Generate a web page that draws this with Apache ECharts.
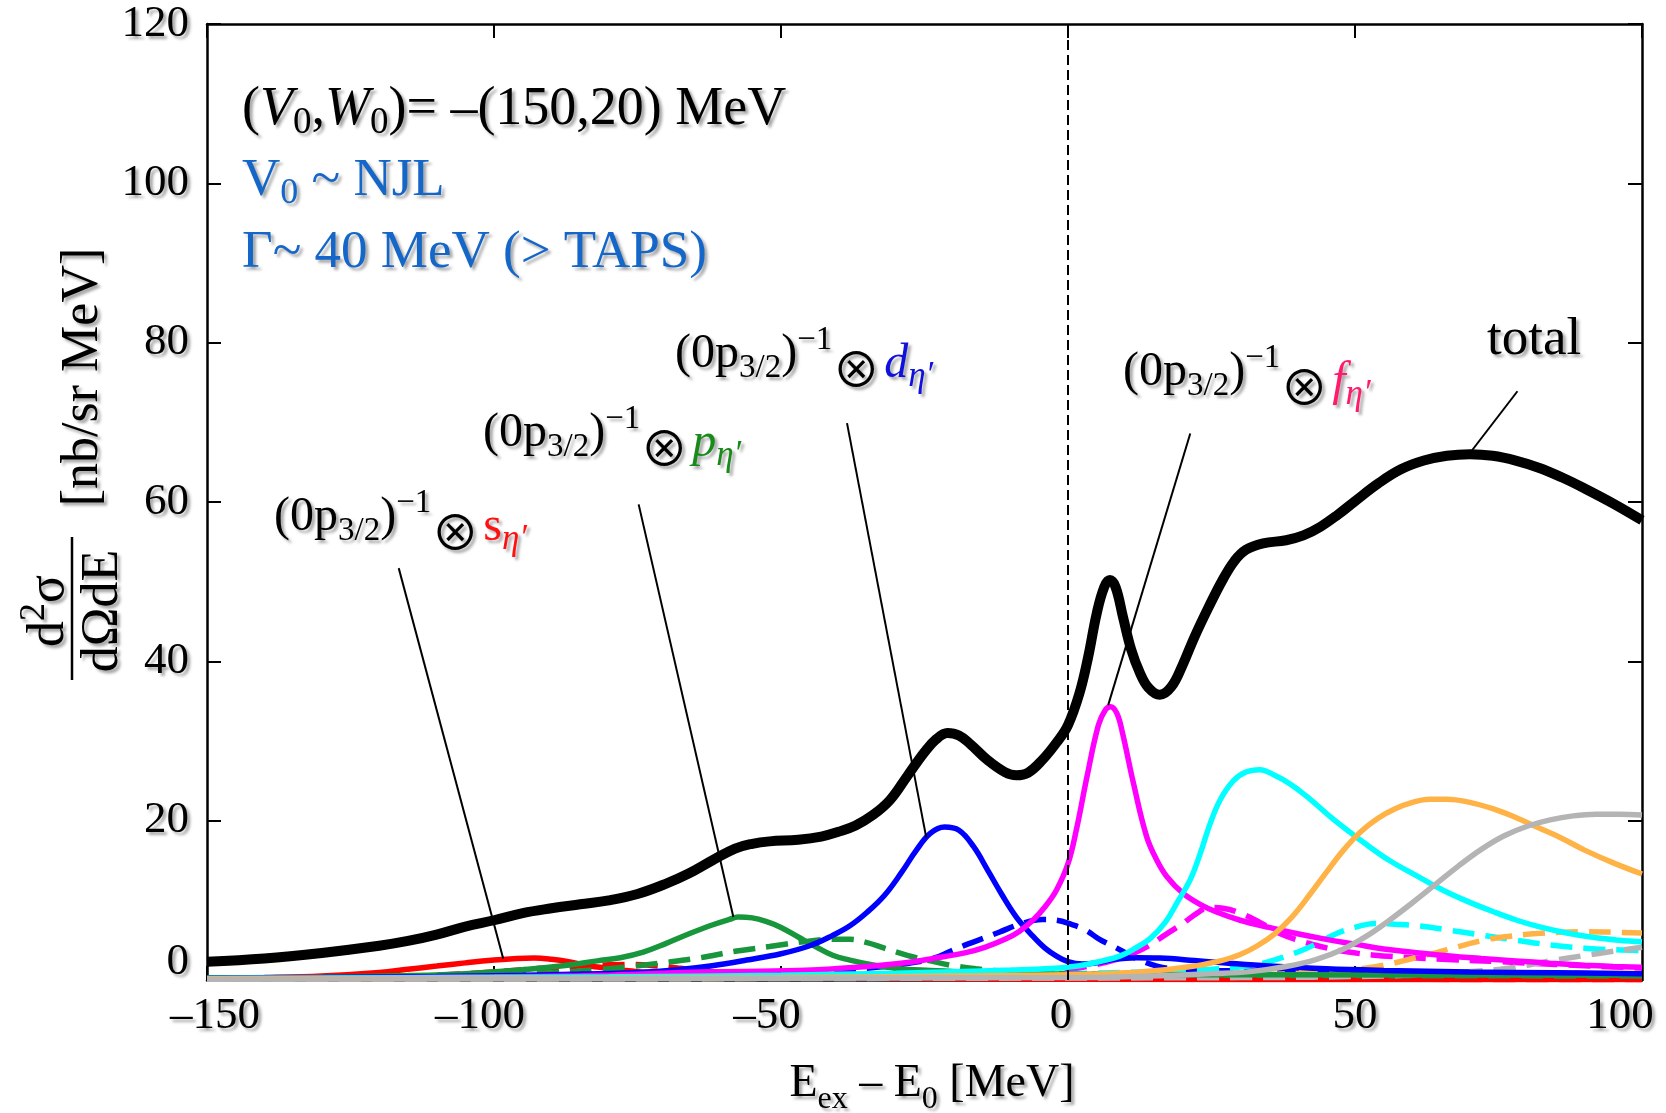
<!DOCTYPE html>
<html>
<head>
<meta charset="utf-8">
<script src="https://cdn.jsdelivr.net/npm/echarts@6/dist/echarts.min.js"></script>
<style>html,body{margin:0;padding:0;background:#fff}#c{width:1666px;height:1113px}</style>
</head>
<body>
<div id="c"></div>
<script>
// ---------------- data ----------------
const xTicks = [-150, -100, -50, 0, 50, 100];
const yTicks = [0, 20, 40, 60, 80, 100, 120];

const total = [[-150,2.3],[-140,2.7],[-130,3.4],[-120,4.3],[-115,4.9],[-110,5.7],[-105,6.7],[-100,7.5],[-95,8.4],[-90,9.0],[-85,9.5],[-80,10.0],[-75,10.8],[-70,12.1],[-66,13.4],[-62,15.0],[-58,16.5],[-55,17.1],[-52,17.4],[-47,17.6],[-43,18.0],[-40,18.6],[-37,19.4],[-34,20.7],[-31,22.6],[-28,25.6],[-25,28.6],[-23,30.2],[-21,31.0],[-19,30.7],[-17,29.6],[-14,27.6],[-11,26.1],[-9,25.7],[-7,26.0],[-4.5,27.6],[-2,29.8],[0,32.0],[2,36.0],[3.5,40.5],[5,46.0],[6.3,49.3],[7.3,50.2],[8.3,49.3],[9.6,45.5],[11,41.5],[12.5,38.6],[14,36.7],[16,35.8],[18,36.8],[20,39.6],[22,43.0],[24.5,46.8],[27,50.3],[29,52.6],[31,54.0],[34,54.8],[38,55.2],[41,55.8],[44,56.9],[47,58.4],[50,60.1],[54,62.3],[58,64.1],[62,65.2],[66,65.8],[70,66.0],[74,65.8],[78,65.2],[82,64.3],[86,63.1],[90,61.7],[95,59.8],[100,57.7]];

const sSolid = [[-150,0.2],[-140,0.3],[-130,0.5],[-120,0.95],[-115,1.35],[-110,1.75],[-105,2.15],[-100,2.5],[-96,2.7],[-93,2.75],[-90,2.6],[-87,2.3],[-84,1.85],[-80,1.45],[-75,1.05],[-70,0.8],[-65,0.6],[-60,0.5],[-50,0.35],[-30,0.2],[0,0.1],[100,0.05]];
const sDash = [[-150,0.2],[-120,0.35],[-110,0.6],[-100,1.0],[-95,1.3],[-90,1.55],[-85,1.75],[-80,1.9],[-76,1.95],[-72,1.8],[-68,1.5],[-64,1.2],[-60,0.9],[-55,0.65],[-50,0.5],[-40,0.35],[-20,0.2],[100,0.05]];

const pSolid = [[-150,0.25],[-130,0.35],[-115,0.55],[-105,0.8],[-95,1.3],[-88,1.8],[-82,2.4],[-78,2.8],[-74,3.5],[-70,4.6],[-66,5.8],[-62,6.9],[-59,7.6],[-57.5,7.9],[-55,7.8],[-52,7.2],[-50,6.6],[-47,5.4],[-44,4.2],[-41,3.1],[-38,2.5],[-34,1.9],[-30,1.45],[-24,1.2],[-15,0.95],[-5,0.8],[10,0.7],[40,0.65],[100,0.6]];
const pDash = [[-150,0.2],[-120,0.35],[-100,0.6],[-90,0.9],[-82,1.3],[-76,1.7],[-70,2.2],[-64,2.8],[-58,3.6],[-52,4.2],[-46,4.8],[-41,5.1],[-38,5.1],[-35,4.7],[-32,4.0],[-28,3.1],[-24,2.4],[-20,1.8],[-16,1.4],[-12,1.15],[-5,0.9],[5,0.75],[30,0.6],[100,0.5]];

const dSolid = [[-150,0.2],[-130,0.3],[-110,0.45],[-95,0.6],[-85,0.75],[-75,0.95],[-68,1.3],[-62,1.8],[-56,2.5],[-50,3.3],[-45,4.3],[-41,5.6],[-38,6.8],[-35,8.5],[-32,10.6],[-29,13.5],[-26.5,16.2],[-24,18.4],[-21.5,19.2],[-19,18.8],[-16.5,16.8],[-14,13.8],[-11.5,10.7],[-9,7.9],[-6.5,5.8],[-4,4.0],[-2,3.0],[0,2.3],[2.5,2.0],[5,2.15],[8,2.6],[12,2.8],[16,2.75],[22,2.45],[28,2.1],[35,1.75],[45,1.4],[55,1.2],[70,1.0],[85,0.9],[100,0.8]];
const dDash = [[-150,0.2],[-100,0.35],[-70,0.55],[-50,0.85],[-40,1.2],[-32,1.7],[-27,2.2],[-23.5,2.7],[-20.5,3.6],[-17.5,4.5],[-14.5,5.3],[-12,6.0],[-8,7.1],[-4.5,7.6],[-2,7.5],[0.5,7.0],[3,6.3],[5.5,5.1],[8.5,4.0],[10,3.4],[12.5,2.5],[15.5,1.75],[19,1.35],[25,1.2],[35,1.1],[55,1.0],[80,0.85],[100,0.75]];

const fSolid = [[-150,0.15],[-100,0.4],[-80,0.6],[-64,1.0],[-47,1.2],[-35,1.7],[-28,2.2],[-23.5,2.7],[-18,3.4],[-14.5,4.1],[-11,5.1],[-8.5,6.1],[-6,7.6],[-4,9.2],[-2,11.3],[0,14.6],[1.5,19.0],[3.3,25.5],[5.3,32.0],[6.5,33.9],[7.4,34.3],[8.5,33.5],[9.5,31.0],[11.4,24.7],[13.7,18.0],[15.5,15.0],[17.2,13.0],[20,10.9],[23,9.5],[26,8.5],[30,7.5],[35,6.6],[40,5.8],[45,5.1],[50,4.5],[55,3.9],[60,3.5],[66,3.05],[72,2.7],[78,2.4],[84,2.1],[90,1.85],[95,1.7],[100,1.6]];
const fDash = [[-150,0.15],[-60,0.3],[-30,0.5],[-15,0.8],[-5,1.0],[0,1.3],[4,1.8],[8.5,2.6],[11.5,3.4],[14.3,4.4],[17,5.7],[20,7.1],[22.5,8.4],[24.5,9.1],[27,9.0],[30,8.4],[33.5,7.2],[37,5.8],[40.5,4.9],[44,4.2],[48,3.6],[53,3.15],[60,2.8],[67,2.55],[75,2.3],[85,1.95],[100,1.5]];

const gSolid = [[-150,0.2],[-80,0.4],[-50,0.6],[-30,0.85],[-20,1.05],[-10,1.25],[-3,1.45],[2,1.8],[6,2.4],[9,3.0],[11.5,3.9],[14.3,5.2],[17,7.3],[19,9.7],[21.3,12.6],[23,15.8],[24.7,19.5],[26.5,22.6],[28.8,25.0],[31,26.1],[33.4,26.4],[36,25.7],[38.7,24.6],[42,22.8],[46.2,20.2],[52,17.0],[56,15.0],[60.7,13.1],[65,11.4],[69.5,9.9],[74,8.6],[78.2,7.5],[82,6.7],[86.9,5.9],[92,5.3],[96,5.0],[100,4.8]];
const gDash = [[-150,0.15],[-50,0.4],[-20,0.6],[0,0.8],[15,1.05],[25,1.35],[31.7,1.8],[35,2.3],[38,3.0],[41,3.8],[44,4.8],[47,5.9],[50,6.6],[53.5,7.1],[57,7.0],[61,6.8],[66,6.3],[72.4,5.6],[78,5.0],[84,4.4],[90,4.0],[95,3.8],[100,3.7]];

const hSolid = [[-150,0.15],[-50,0.3],[-20,0.5],[0,0.65],[10,0.9],[17,1.3],[22,1.75],[26,2.3],[30,3.2],[33,4.3],[36,5.8],[39,7.9],[42,10.6],[45,13.5],[48,16.3],[51,18.6],[54,20.3],[57,21.5],[60,22.3],[63,22.7],[66,22.7],[70,22.3],[74,21.5],[78,20.4],[82,19.1],[86,17.8],[90,16.3],[95,14.7],[100,13.3]];
const hDash = [[-150,0.15],[0,0.3],[30,0.6],[45,1.0],[52,1.5],[56,2.0],[60,2.7],[64,3.4],[68,4.2],[72.4,5.0],[77,5.5],[81,5.8],[86,6.0],[90,6.05],[95,6.0],[100,5.9]];

const iSolid = [[-150,0.1],[0,0.3],[14,0.5],[25,0.8],[31.7,1.05],[38,1.7],[43.3,2.6],[48,3.9],[52,5.5],[56,7.5],[60,9.7],[64,12.0],[68,14.3],[72,16.4],[76,18.1],[80,19.3],[84,20.1],[88,20.6],[92,20.8],[96,20.8],[100,20.7]];
const iDash = [[-150,0.1],[30,0.3],[55,0.5],[62,0.7],[68,0.95],[75.3,1.35],[80,1.85],[84,2.4],[89.8,3.05],[95,3.6],[100,4.1]];

// leader lines of the annotations (data coordinates)
const leaderS = [[-116.6,51.7],[-98.4,2.7]];
const leaderP = [[-74.8,59.7],[-58.3,7.9]];
const leaderD = [[-38.5,69.9],[-24.7,17.9]];
const leaderF = [[21.3,68.6],[7.0,34.5]];
const leaderT = [[78.3,73.9],[70.3,66.4]];

// ---------------- styles ----------------
const FONT = '"Liberation Serif","Times New Roman",serif';
const SHADOW = {textShadowColor:'rgba(0,0,0,0.35)', textShadowBlur:3, textShadowOffsetX:3, textShadowOffsetY:3};
function rs(o){ return Object.assign({fontFamily:FONT, fill:'#000', fontSize:48, lineHeight:54, verticalAlign:'middle'}, SHADOW, o); }

const C_RED='#ff0000', C_GREEN='#18963c', C_BLUE='#0000ff', C_MAG='#ff00ff', C_CYAN='#00ffff', C_ORANGE='#ffb347', C_GRAY='#b4b4b4';
const BLUE_TXT = '#1466c8';
const DASH = [22, 11];

function line(name, data, color, dashed, width, z){
  return {name, type:'line', data, showSymbol:false, symbol:'none', smooth:0.4, silent:true, z: z||2,
    lineStyle:{color, width: width||5.5, type: dashed ? DASH : 'solid', cap:'butt'}};
}
function leader(data){
  return {type:'line', data, showSymbol:false, symbol:'none', silent:true, z:6, lineStyle:{color:'#000', width:2}};
}

function labelRich(color, italic){
  return {
    m: rs({}),
    sb: rs({fontSize:33, lineHeight:37, padding:[28,0,0,0]}),
    sp: rs({fontSize:33, lineHeight:37, padding:[0,0,28,0]}),
    ot: rs({fontFamily:'"Noto Sans CJK JP","DejaVu Sans",sans-serif', fontSize:48, lineHeight:54, padding:[30,0,0,0]}),
    c: rs({fill:color, fontStyle: italic ? 'italic' : 'normal', padding:[21,0,0,0]}),
    cs: rs({fill:color, fontStyle:'italic', fontSize:35, lineHeight:39, padding:[46,0,0,0]})
  };
}
function holeLabel(x, y, letter, color, italic){
  return {type:'text', x, y, z:20, silent:true, style:{
    text:'{m|(0p}{sb|3/2}{m|)}{sp|\u22121}{ot|\u2297}{c|\u200a' + letter + '}{cs|\u03b7\u2032}',
    rich: labelRich(color, italic), align:'left', verticalAlign:'middle'}};
}

const topRich = {
  m: rs({fontSize:54, lineHeight:60}),
  mi: rs({fontSize:54, lineHeight:60, fontStyle:'italic'}),
  sb: rs({fontSize:37, lineHeight:41, padding:[26,0,0,0]}),
  b: rs({fontSize:53, lineHeight:59, fill:BLUE_TXT}),
  bs: rs({fontSize:36, lineHeight:40, fill:BLUE_TXT, padding:[26,0,0,0]})
};

const yRich = {
  m: rs({fontSize:52, lineHeight:58}),
  sp: rs({fontSize:36, lineHeight:40, padding:[0,0,28,0]})
};
const xRich = {
  m: rs({fontSize:46, lineHeight:52}),
  sb: rs({fontSize:32, lineHeight:36, padding:[32,0,0,0]})
};

const tickFont = {fontFamily:FONT, fontSize:45, color:'#000', ...SHADOW};

const option = {
  animation:false,
  backgroundColor:'#fff',
  grid:{left:207, right:24, top:24, bottom:133, containLabel:false},
  xAxis:[
    {type:'value', min:xTicks[0], max:xTicks[xTicks.length-1], interval:50, position:'bottom',
     axisLine:{show:true, onZero:false, lineStyle:{color:'#000', width:2.5}},
     axisTick:{show:true, inside:true, length:14, lineStyle:{color:'#000', width:2}},
     splitLine:{show:false},
     axisLabel:{margin:14, ...tickFont,
       formatter:function(v){
         const s = (v<0 ? '\u2013' : '') + Math.abs(v);
         if (v===xTicks[0]) return '{f|'+s+'}';
         if (v===xTicks[xTicks.length-1]) return '{l|'+s+'}';
         if (v<0) return '{n|'+s+'}';
         if (v===0) return '{z|'+s+'}';
         return '{p|'+s+'}';
       },
       rich:{
         f:{...tickFont, padding:[0,0,0,16]},
         n:{...tickFont, padding:[0,28,0,0]},
         z:{...tickFont, padding:[0,14,0,0]},
         p:{...tickFont},
         l:{...tickFont, padding:[0,44,0,0]}
       }}},
    {type:'value', min:xTicks[0], max:xTicks[xTicks.length-1], interval:50, position:'top',
     axisLine:{show:true, onZero:false, lineStyle:{color:'#000', width:2.5}},
     axisTick:{show:true, inside:true, length:14, lineStyle:{color:'#000', width:2}},
     splitLine:{show:false}, axisLabel:{show:false}}
  ],
  yAxis:[
    {type:'value', min:yTicks[0], max:yTicks[yTicks.length-1], interval:20, position:'left',
     axisLine:{show:true, onZero:false, lineStyle:{color:'#000', width:2.5}},
     axisTick:{show:true, inside:true, length:14, lineStyle:{color:'#000', width:2}},
     splitLine:{show:false},
     axisLabel:{margin:18, ...tickFont,
       formatter:function(v){ return v===0 ? '{z|0}' : '{a|'+v+'}'; },
       rich:{a:{...tickFont}, z:{...tickFont, padding:[0,0,36,0]}}}},
    {type:'value', min:yTicks[0], max:yTicks[yTicks.length-1], interval:20, position:'right',
     axisLine:{show:true, onZero:false, lineStyle:{color:'#000', width:2.5}},
     axisTick:{show:true, inside:true, length:14, lineStyle:{color:'#000', width:2}},
     splitLine:{show:false}, axisLabel:{show:false}}
  ],
  series:[
    line('sSolid', sSolid, C_RED, false),
    line('sDash', sDash, C_RED, true),
    line('pDash', pDash, C_GREEN, true),
    line('dDash', dDash, C_BLUE, true),
    line('fDash', fDash, C_MAG, true),
    line('gDash', gDash, C_CYAN, true),
    line('hDash', hDash, C_ORANGE, true),
    line('iDash', iDash, C_GRAY, true),
    line('pSolid', pSolid, C_GREEN, false),
    line('dSolid', dSolid, C_BLUE, false),
    line('fSolid', fSolid, C_MAG, false),
    line('gSolid', gSolid, C_CYAN, false),
    line('hSolid', hSolid, C_ORANGE, false),
    line('iSolid', iSolid, C_GRAY, false),
    Object.assign(line('total', total, '#000', false, 10, 8), {
      markLine:{silent:true, symbol:'none', label:{show:false},
        lineStyle:{color:'#000', type:[10,5], width:2}, data:[{xAxis:0}]}}),
    leader(leaderS), leader(leaderP), leader(leaderD), leader(leaderF), leader(leaderT)
  ],
  graphic:[
    {type:'text', x:242, y:110, z:20, silent:true, style:{
      text:'{m|(}{mi|V}{sb|0}{m|,}{mi|W}{sb|0}{m|)= \u2013(150,20) MeV}', rich:topRich, align:'left', verticalAlign:'middle'}},
    {type:'text', x:242, y:181, z:20, silent:true, style:{
      text:'{b|V}{bs|0}{b| ~ NJL}', rich:topRich, align:'left', verticalAlign:'middle'}},
    {type:'text', x:242, y:253, z:20, silent:true, style:{
      text:'{b|\u0393~ 40 MeV (> TAPS)}', rich:topRich, align:'left', verticalAlign:'middle'}},
    holeLabel(274, 517, 's', '#ff1111', false),
    holeLabel(483, 433, 'p', '#178a1a', true),
    holeLabel(675, 354, 'd', '#1010dd', true),
    holeLabel(1123, 372, 'f', '#ff1a6a', true),
    {type:'text', x:1487, y:340, z:20, silent:true, style:{
      text:'{m|total}', rich:{m: rs({fontSize:53, lineHeight:58})}, align:'left', verticalAlign:'middle'}},
    // y axis title
    {type:'text', x:83, y:377, rotation:Math.PI/2, z:20, silent:true, style:{
      text:'{m|[nb/sr MeV]}', rich:yRich, align:'center', verticalAlign:'middle'}},
    {type:'text', x:49, y:611, rotation:Math.PI/2, z:20, silent:true, style:{
      text:'{m|d}{sp|2}{m|\u03c3}', rich:yRich, align:'center', verticalAlign:'middle'}},
    {type:'text', x:103, y:611, rotation:Math.PI/2, z:20, silent:true, style:{
      text:'{m|d\u03a9dE}', rich:yRich, align:'center', verticalAlign:'middle'}},
    {type:'line', z:20, silent:true, shape:{x1:72, y1:537, x2:72, y2:680}, style:{stroke:'#000', lineWidth:2.5}},
    // x axis title
    {type:'text', x:932, y:1084, z:20, silent:true, style:{
      text:'{m|E}{sb|ex}{m| \u2013 E}{sb|0}{m| [MeV]}', rich:xRich, align:'center', verticalAlign:'middle'}}
  ]
};

const chart = echarts.init(document.getElementById('c'), null, {renderer:'canvas'});
chart.setOption(option);
</script>
</body>
</html>
